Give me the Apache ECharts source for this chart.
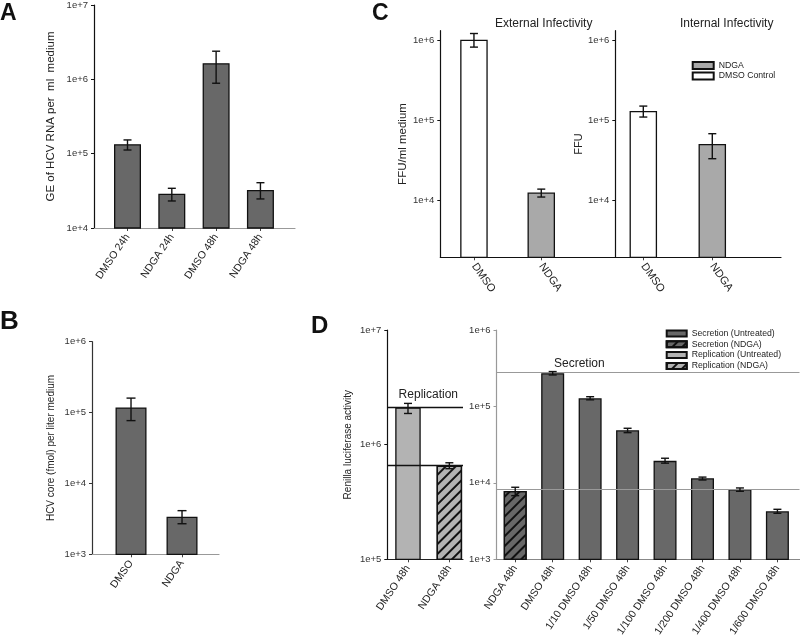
<!DOCTYPE html>
<html>
<head>
<meta charset="utf-8">
<script src="https://cdn.jsdelivr.net/npm/echarts@6/dist/echarts.min.js"></script>
<style>html,body{margin:0;padding:0;background:#fff;}#c{width:800px;height:641px;}</style>
</head>
<body>
<div id="c"></div>
<script>
// ---------- DATA ----------
const aCats = ['DMSO 24h', 'NDGA 24h', 'DMSO 48h', 'NDGA 48h'];
const aVals = [1.34e5, 2.9e4, 1.65e6, 3.25e4];
const aLow = [1.12e5, 2.31e4, 8.86e5, 2.46e4];
const aHigh = [1.53e5, 3.42e4, 2.39e6, 4.07e4];

const bCats = ['DMSO', 'NDGA'];
const bVals = [1.18e5, 3.4e3];
const bLow = [7.7e4, 2.7e3];
const bHigh = [1.6e5, 4.13e3];

const cCats = ['DMSO', 'NDGA'];
const cExtVals = [1.03e6, 1.24e4];
const cExtLow = [8.3e5, 1.09e4];
const cExtHigh = [1.23e6, 1.37e4];
const cIntVals = [1.31e5, 5.05e4];
const cIntLow = [1.1e5, 3.3e4];
const cIntHigh = [1.51e5, 6.8e4];

const dRepCats = ['DMSO 48h', 'NDGA 48h'];
const dRepVals = [2.11e6, 6.55e5];
const dRepLow = [1.87e6, 6.17e5];
const dRepHigh = [2.29e6, 6.95e5];
const dRepLines = [2.11e6, 6.6e5];

const dSecCats = ['NDGA 48h', 'DMSO 48h', '1/10 DMSO 48h', '1/50 DMSO 48h', '1/100 DMSO 48h', '1/200 DMSO 48h', '1/400 DMSO 48h', '1/600 DMSO 48h'];
const dSecVals = [7.83e3, 2.72e5, 1.28e5, 4.88e4, 1.94e4, 1.15e4, 8.25e3, 4.25e3];
const dSecLow = [6.8e3, 2.58e5, 1.22e5, 4.54e4, 1.81e4, 1.09e4, 7.76e3, 4.0e3];
const dSecHigh = [8.76e3, 2.86e5, 1.34e5, 5.18e4, 2.1e4, 1.19e4, 8.58e3, 4.51e3];
const dSecLines = [2.77e5, 8.3e3];

// ---------- STYLE HELPERS ----------
const FONT = "'Liberation Sans', Arial, sans-serif";
const DARK = '#686868', LIGHT = '#b3b3b3', CGREY = '#a9a9a9';
const logFmt = v => '1e+' + Math.round(Math.log10(v));
const hatch = {symbol: 'rect', symbolSize: 1, dashArrayX: [1, 0], dashArrayY: [1.1, 4.4], rotation: -Math.PI / 4, color: '#111'};

function xAx(gi, min, max, cats, rot, lineColor, fs) {
  const vals = cats.map((c, i) => i);
  return {
    type: 'value', gridIndex: gi, min: min, max: max,
    splitLine: {show: false},
    axisLine: {show: true, onZero: false, lineStyle: {color: lineColor, width: 1.2}},
    axisTick: {show: true, length: 3, customValues: vals, lineStyle: {color: '#444'}},
    axisLabel: {customValues: vals, rotate: rot, margin: 7, fontSize: fs, color: '#222', fontFamily: FONT,
      formatter: v => cats[Math.round(v)] || ''}
  };
}
function yAx(gi, min, max, ticks, name, gap, nameSize, lineColor) {
  return {
    type: 'log', gridIndex: gi, min: min, max: max,
    splitLine: {show: false},
    axisLine: {show: true, onZero: false, lineStyle: {color: lineColor, width: 1.2}},
    axisTick: {show: true, length: 3, customValues: ticks, lineStyle: {color: lineColor}},
    axisLabel: {customValues: ticks, margin: 6, fontSize: 9.5, color: '#333', fontFamily: FONT, formatter: logFmt},
    name: name, nameLocation: 'middle', nameGap: gap,
    nameTextStyle: {fontSize: nameSize, color: '#222', fontFamily: FONT}
  };
}
function barSeries(name, xi, pts, color, width, extra) {
  return Object.assign({
    type: 'bar', name: name, xAxisIndex: xi, yAxisIndex: xi, data: pts,
    barWidth: width, barGap: '-100%', clip: true,
    itemStyle: {color: color, borderColor: '#111', borderWidth: 1.3}
  }, extra || {});
}
function errSeries(xi, low, high, cap) {
  return {
    type: 'custom', name: 'err' + xi, xAxisIndex: xi, yAxisIndex: xi, z: 10,
    data: low.map((l, i) => [i, l, high[i]]),
    encode: {x: 0, y: [1, 2]},
    renderItem: (params, api) => {
      const x = api.value(0);
      const p1 = api.coord([x, api.value(2)]);
      const p2 = api.coord([x, api.value(1)]);
      const w = cap / 2;
      const st = {stroke: '#111', lineWidth: 1.4};
      return {type: 'group', children: [
        {type: 'line', shape: {x1: p1[0], y1: p1[1], x2: p2[0], y2: p2[1]}, style: st},
        {type: 'line', shape: {x1: p1[0] - w, y1: p1[1], x2: p1[0] + w, y2: p1[1]}, style: st},
        {type: 'line', shape: {x1: p2[0] - w, y1: p2[1], x2: p2[0] + w, y2: p2[1]}, style: st}
      ]};
    }
  };
}
const pts = (vals, idx) => idx.map(i => [i, vals[i]]);

const option = {
  animation: false,
  backgroundColor: '#fff',
  textStyle: {fontFamily: FONT},
  grid: [
    {left: 94, top: 5, width: 201, height: 223},
    {left: 92, top: 341.7, width: 127, height: 212.6},
    {left: 440.3, top: 30.7, width: 175, height: 226.6},
    {left: 615.3, top: 30.7, width: 165.7, height: 226.6},
    {left: 387.3, top: 330, width: 75.7, height: 229.3},
    {left: 496.5, top: 330, width: 303, height: 229.3}
  ],
  xAxis: [
    xAx(0, -0.756, 3.78, aCats, 56, '#999', 10.5),
    xAx(1, -0.765, 1.725, bCats, 55, '#999', 10.5),
    xAx(2, -0.5, 2.1, cCats, -55, '#111', 11),
    xAx(3, -0.406, 1.996, cCats, -55, '#111', 11),
    xAx(4, -0.5, 1.33, dRepCats, 56, '#222', 10.5),
    xAx(5, -0.5, 7.59, dSecCats, 56, '#888', 10.5)
  ],
  yAxis: [
    yAx(0, 1e4, 1e7, [1e4, 1e5, 1e6, 1e7], 'GE of HCV RNA per  ml  medium', 37, 11.5, '#111'),
    yAx(1, 1e3, 1e6, [1e3, 1e4, 1e5, 1e6], 'HCV core (fmol) per liter medium', 36, 10, '#333'),
    yAx(2, 1910, 1.334e6, [1e4, 1e5, 1e6], 'FFU/ml medium', 28, 11.5, '#111'),
    yAx(3, 1910, 1.334e6, [1e4, 1e5, 1e6], 'FFU', 9, 11, '#111'),
    yAx(4, 1e5, 1e7, [1e5, 1e6, 1e7], 'Renilla luciferase activity', 34, 10, '#111'),
    yAx(5, 1e3, 1e6, [1e3, 1e4, 1e5, 1e6], '', 10, 10, '#999')
  ],
  legend: [
    {data: ['NDGA', 'DMSO Control'], orient: 'vertical', left: 686.7, top: 55.5, icon: 'rect',
      itemWidth: 21, itemHeight: 7, itemGap: 0.6, selectedMode: false,
      textStyle: {fontSize: 8.7, lineHeight: 10, color: '#222', fontFamily: FONT}},
    {data: ['Secretion (Untreated)', 'Secretion (NDGA)', 'Replication (Untreated)', 'Replication (NDGA)'],
      orient: 'vertical', left: 660.7, top: 323.5, icon: 'rect',
      itemWidth: 20, itemHeight: 6, itemGap: 0.8, selectedMode: false,
      textStyle: {fontSize: 8.7, lineHeight: 10, color: '#222', fontFamily: FONT}}
  ],
  series: [
    barSeries('A', 0, pts(aVals, [0, 1, 2, 3]), DARK, 27),
    errSeries(0, aLow, aHigh, 8),
    barSeries('B', 1, pts(bVals, [0, 1]), DARK, 31),
    errSeries(1, bLow, bHigh, 9),
    barSeries('DMSO Control', 2, pts(cExtVals, [0]), '#fff', 27.5),
    barSeries('NDGA', 2, pts(cExtVals, [1]), CGREY, 27.5),
    errSeries(2, cExtLow, cExtHigh, 8),
    barSeries('DMSO Control', 3, pts(cIntVals, [0]), '#fff', 27.5),
    barSeries('NDGA', 3, pts(cIntVals, [1]), CGREY, 27.5),
    errSeries(3, cIntLow, cIntHigh, 8),
    barSeries('Replication (Untreated)', 4, pts(dRepVals, [0]), LIGHT, 25.5, {
      markLine: {symbol: 'none', silent: true, label: {show: false},
        lineStyle: {color: '#111', width: 1.3, type: 'solid'},
        data: dRepLines.map(v => ({yAxis: v}))}
    }),
    barSeries('Replication (NDGA)', 4, pts(dRepVals, [1]), LIGHT, 25.5, {
      itemStyle: {color: LIGHT, borderColor: '#111', borderWidth: 1.3, decal: hatch}
    }),
    errSeries(4, dRepLow, dRepHigh, 8),
    barSeries('Secretion (Untreated)', 5, pts(dSecVals, [1, 2, 3, 4, 5, 6, 7]), DARK, 23, {
      markLine: {symbol: 'none', silent: true, label: {show: false},
        lineStyle: {color: '#999', width: 1.2, type: 'solid'},
        data: dSecLines.map(v => ({yAxis: v}))}
    }),
    barSeries('Secretion (NDGA)', 5, pts(dSecVals, [0]), DARK, 23, {
      itemStyle: {color: DARK, borderColor: '#111', borderWidth: 1.3, decal: hatch}
    }),
    errSeries(5, dSecLow, dSecHigh, 8)
  ],
  graphic: [
    {type: 'text', x: 0, y: 2, style: {text: 'A', font: "bold 23px " + FONT, fill: '#111'}},
    {type: 'text', x: 0, y: 309, style: {text: 'B', font: "bold 26px " + FONT, fill: '#111'}},
    {type: 'text', x: 372, y: 2, style: {text: 'C', font: "bold 23px " + FONT, fill: '#111'}},
    {type: 'text', x: 311, y: 314, style: {text: 'D', font: "bold 24px " + FONT, fill: '#111'}},
    {type: 'text', x: 543.7, y: 24, style: {text: 'External Infectivity', font: "12px " + FONT, fill: '#222', align: 'center', verticalAlign: 'middle'}},
    {type: 'text', x: 726.7, y: 24, style: {text: 'Internal Infectivity', font: "12px " + FONT, fill: '#222', align: 'center', verticalAlign: 'middle'}},
    {type: 'text', x: 428.3, y: 395, style: {text: 'Replication', font: "12px " + FONT, fill: '#222', align: 'center', verticalAlign: 'middle'}},
    {type: 'text', x: 579.3, y: 363.3, style: {text: 'Secretion', font: "12px " + FONT, fill: '#222', align: 'center', verticalAlign: 'middle'}}
  ]
};

const chart = echarts.init(document.getElementById('c'), null, {renderer: 'canvas'});
chart.setOption(option);
</script>
</body>
</html>
